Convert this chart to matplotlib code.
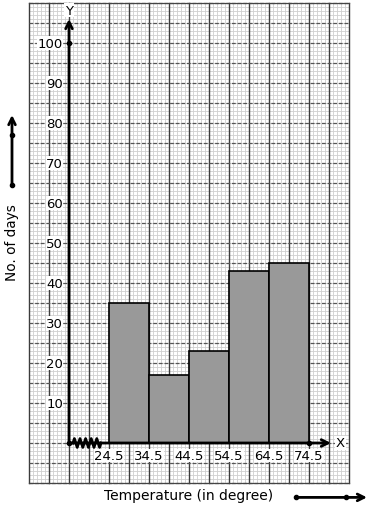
import numpy as np
import matplotlib
matplotlib.use("Agg")
import matplotlib.pyplot as plt

# ---- data ----
class_edges = [24.5, 34.5, 44.5, 54.5, 64.5, 74.5]
days = [35, 17, 23, 43, 45]
x_tick_labels = ["24.5", "34.5", "44.5", "54.5", "64.5", "74.5"]
y_ticks = [10, 20, 30, 40, 50, 60, 70, 80, 90, 100]
y_tick_labels = ["10", "20", "30", "40", "50", "60", "70", "80", "90", "100"]
x_origin = 14.5

fig = plt.figure(figsize=(3.71, 5.10), dpi=100)
ax = fig.add_axes([0, 0, 1, 1])
ax.set_xlim(-2.75, 90)
ax.set_ylim(-16.5, 111)
ax.axis("off")

# graph paper
px0, px1, py0, py1 = 4.5, 84.5, -10, 110
for v in np.arange(px0, px1 + 0.01, 1):
    ax.plot([v, v], [py0, py1], color="#cfcfcf", lw=0.6, zorder=0)
for v in np.arange(py0, py1 + 0.01, 1):
    ax.plot([px0, px1], [v, v], color="#cfcfcf", lw=0.6, zorder=0)
for v in np.arange(px0, px1 + 0.01, 5):
    ax.plot([v, v], [py0, py1], color="#3c3c3c", lw=1.0, zorder=1)
for v in np.arange(py0, py1 + 0.01, 5):
    ax.plot([px0, px1], [v, v], color="#555555", lw=0.9, ls=(0, (3, 1.5)), zorder=1)
ax.plot([px0, px1], [py1, py1], color="#444444", lw=0.9, zorder=1)
ax.plot([px0, px1], [py0, py0], color="#444444", lw=0.9, zorder=1)

# bars
lefts = class_edges[:-1]
widths = np.diff(class_edges)
ax.bar(lefts, days, width=widths, align="edge", color="#999999",
       edgecolor="black", linewidth=1.2, zorder=3)

arrow_kw = dict(arrowstyle="->", lw=2, color="black",
                mutation_scale=12, shrinkA=0, shrinkB=0)
# axes lines
ax.annotate("", xy=(x_origin, 106), xytext=(x_origin, 0),
            arrowprops=arrow_kw, zorder=5)
ax.annotate("", xy=(80, 0), xytext=(x_origin, 0),
            arrowprops=arrow_kw, zorder=5)
ax.plot([x_origin], [100], "o", color="black", ms=3, zorder=6)
ax.plot([x_origin], [0], "o", color="black", ms=3, zorder=6)
ax.plot([class_edges[-1]], [0], "o", color="black", ms=3, zorder=6)

# zigzag break
zx = np.linspace(15.5, 22.5, 21)
zy = np.array([0, 1.1, 0, -1.1] * 6)[:21]
ax.plot(zx, zy, color="black", lw=2.0, zorder=6)

ax.text(x_origin, 108.2, "Y", ha="center", va="center", fontsize=9.5,
        bbox=dict(fc="white", ec="none", pad=0.5), zorder=7)
ax.text(82.4, 0, "X", ha="center", va="center", fontsize=9.5,
        bbox=dict(fc="white", ec="none", pad=0.5), zorder=7)

for v, lab in zip(y_ticks, y_tick_labels):
    ax.text(13.0, v, lab, ha="right", va="center", fontsize=9.5,
            bbox=dict(fc="white", ec="none", pad=0.3), zorder=7)
for v, lab in zip(class_edges, x_tick_labels):
    ax.text(v, -3.1, lab, ha="center", va="center", fontsize=9.5,
            bbox=dict(fc="white", ec="none", pad=0.3), zorder=7)

# axis titles
ax.text(44.5, -13.0, "Temperature (in degree)", ha="center", va="center",
        fontsize=10)
ax.text(0.3, 50.3, "No. of days", ha="center", va="center", fontsize=9.8,
        rotation=90)

# direction arrows
ax.annotate("", xy=(89, -13.6), xytext=(71.25, -13.6), arrowprops=arrow_kw)
ax.plot([71.25, 83.75], [-13.6, -13.6], "o", color="black", ms=3)
ax.annotate("", xy=(0.25, 82), xytext=(0.25, 64.5), arrowprops=arrow_kw)
ax.plot([0.25, 0.25], [64.5, 77], "o", color="black", ms=3)

fig.savefig("out.png", dpi=100)
